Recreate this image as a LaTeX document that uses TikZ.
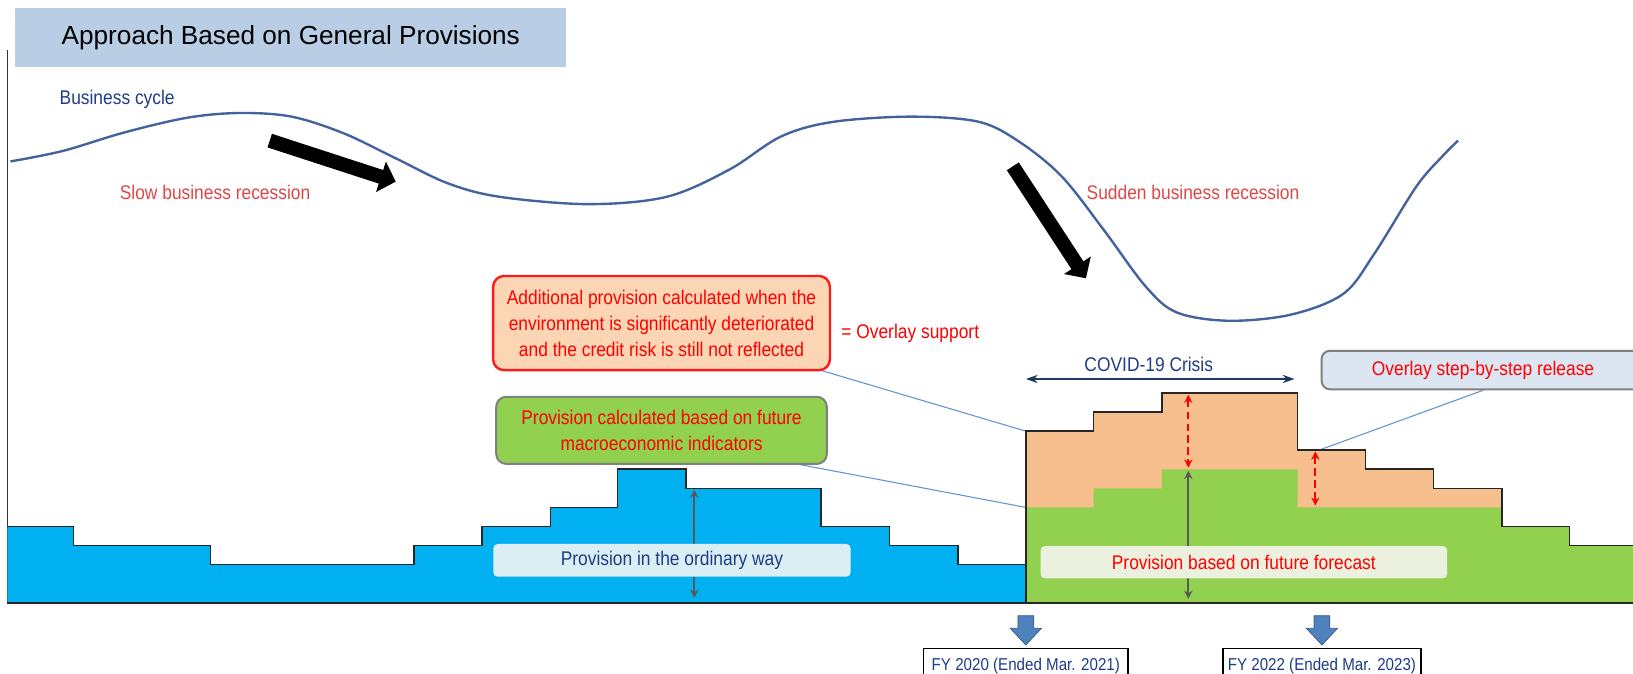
\documentclass[tikz,border=0pt]{standalone}
\usepackage{fontspec}
\setmainfont{Liberation Sans}
\newfontfamily\cnd{Liberation Sans}[FakeStretch=0.88]
\usetikzlibrary{arrows.meta,backgrounds,calc}
\definecolor{titlebg}{RGB}{185,205,229}
\definecolor{provblue}{RGB}{0,176,240}
\definecolor{provgreen}{RGB}{146,208,80}
\definecolor{provorange}{RGB}{248,191,142}
\definecolor{peach}{RGB}{252,213,181}
\definecolor{navy}{RGB}{31,60,136}
\definecolor{darknavy}{RGB}{31,56,100}
\definecolor{softred}{RGB}{224,70,70}
\definecolor{wave}{RGB}{68,98,156}
\definecolor{linkblue}{RGB}{100,150,210}
\definecolor{palecyan}{RGB}{218,238,243}
\definecolor{palegreen}{RGB}{235,241,222}
\definecolor{paleblue}{RGB}{220,230,242}
\definecolor{steel}{RGB}{79,129,189}
\definecolor{steeldark}{RGB}{56,93,138}
\begin{document}
\begin{tikzpicture}[x=0.02cm,y=-0.02cm,
  every node/.style={font=\cnd\fontsize{10.8}{14.2}\selectfont},
  tag/.style={anchor=base,inner sep=0pt},
  labelbox/.style={rounded corners=2.3pt,inner sep=0pt,align=center},
  callout/.style={rounded corners=6pt,line width=1.3pt,inner sep=0pt,align=center,text=red},
  outline/.style={draw=black!85,line width=0.9pt},
  push/.style={line width=7.8pt,-{Triangle[length=8.5pt,width=17pt]}},
  gap/.style={draw=red,dashed,dash pattern=on 4pt off 2.5pt,line width=1.1pt,
              {Stealth[length=4.5pt,width=4.5pt]}-{Stealth[length=4.5pt,width=4.5pt]}},
  height/.style={draw=black!65,line width=1.1pt,
              {Stealth[length=4.5pt,width=4.5pt]}-{Stealth[length=4.5pt,width=4.5pt]}},
  span/.style={draw=darknavy,line width=0.85pt,
              {Stealth[length=6.5pt,width=4.5pt]}-{Stealth[length=6.5pt,width=4.5pt]}},
  link/.style={draw=linkblue,line width=0.6pt},
  fybox/.style={draw,line width=0.8pt,fill=white,text=navy,inner sep=0pt,
              font=\cnd\fontsize{9.4}{11}\selectfont,minimum height=0.7cm},
  blockarrow/.style={fill=steel,draw=steeldark,line width=0.4pt}]
\useasboundingbox (0,0) rectangle (1568,647);

\node[fill=titlebg,minimum width=10.58cm,minimum height=1.12cm,inner sep=0pt,
      font=\fontsize{14.3}{17}\selectfont] (title) at (279.2,36) {Approach Based on General Provisions};
\draw[black!80,line width=0.6pt] (7,48) -- (7,578.7);

\node[tag,text=navy] (cycle) at (112.5,100.8) {Business cycle};
\node[tag,text=softred] (slow) at (206.5,192) {Slow business recession};
\node[tag,text=softred] (sudden) at (1145.5,192) {Sudden business recession};

\draw[wave,line width=1.3pt] plot[smooth,tension=0.55] coordinates {
  (10,155) (60,145) (120,127) (180,113) (230,108.5) (280,112) (330,128) (380,152)
  (430,176) (480,189) (565,196) (640,189) (700,163) (750,131) (800,117) (875,112)
  (940,117) (980,137) (1020,170) (1060,221) (1100,275) (1130,300) (1180,308)
  (1240,302) (1290,282) (1320,243) (1360,179) (1385,150) (1400,135)};

\coordinate (slowA) at (259,135);
\coordinate (slowB) at (380,174.4);
\coordinate (suddenA) at (972.5,159.7);
\coordinate (suddenB) at (1042.7,267.2);
\draw[push] (slowA) -- (slowB);
\draw[push] (suddenA) -- (suddenB);

\fill[provblue] (7,578.7) -- (7,505.5) -- (70.7,505.5) -- (70.7,523.8) -- (202,523.8)
  -- (202,542.1) -- (397.5,542.1) -- (397.5,523.8) -- (463,523.8) -- (463,505.5)
  -- (528.7,505.5) -- (528.7,487.2) -- (593,487.2) -- (593,450.6) -- (658.6,450.6)
  -- (658.6,468.9) -- (788,468.9) -- (788,505.5) -- (854,505.5) -- (854,523.8)
  -- (919.6,523.8) -- (919.6,542.1) -- (985,542.1) -- (985,578.7) -- cycle;
\fill[provorange] (985,578.7) -- (985,414) -- (1050,414) -- (1050,395.7) -- (1115.5,395.7)
  -- (1115.5,377.4) -- (1246,377.4) -- (1246,432.3) -- (1311,432.3) -- (1311,450.6)
  -- (1376.5,450.6) -- (1376.5,468.9) -- (1442,468.9) -- (1442,578.7) -- cycle;
\fill[provgreen] (985,578.7) -- (985,487.2) -- (1050,487.2) -- (1050,468.9) -- (1115.5,468.9)
  -- (1115.5,450.6) -- (1246,450.6) -- (1246,487.2) -- (1442,487.2) -- (1442,505.5)
  -- (1507,505.5) -- (1507,523.8) -- (1568,523.8) -- (1568,578.7) -- cycle;
\draw[outline] (7,505.5) -- (70.7,505.5) -- (70.7,523.8) -- (202,523.8)
  -- (202,542.1) -- (397.5,542.1) -- (397.5,523.8) -- (463,523.8) -- (463,505.5)
  -- (528.7,505.5) -- (528.7,487.2) -- (593,487.2) -- (593,450.6) -- (658.6,450.6)
  -- (658.6,468.9) -- (788,468.9) -- (788,505.5) -- (854,505.5) -- (854,523.8)
  -- (919.6,523.8) -- (919.6,542.1) -- (985,542.1) -- (985,414) -- (1050,414)
  -- (1050,395.7) -- (1115.5,395.7) -- (1115.5,377.4) -- (1246,377.4) -- (1246,432.3)
  -- (1311,432.3) -- (1311,450.6) -- (1376.5,450.6) -- (1376.5,468.9) -- (1442,468.9)
  -- (1442,505.5) -- (1507,505.5) -- (1507,523.8) -- (1568,523.8);
\draw[outline] (985,542.1) -- (985,578.7);
\draw[outline] (7,578.7) -- (1568,578.7);

\coordinate (orgcorner) at (985,414);
\coordinate (grncorner) at (985,487.2);
\coordinate (ordtop) at (666.7,470);
\coordinate (ordbot) at (666.7,574);
\coordinate (fortop) at (1141,452);
\coordinate (forbot) at (1141,575);
\coordinate (gaptopA) at (1141,379);
\coordinate (gapbotA) at (1141,449);
\coordinate (gaptopB) at (1263,433.5);
\coordinate (gapbotB) at (1263,485.5);
\draw[height] (ordtop) -- (ordbot);
\draw[height] (fortop) -- (forbot);
\draw[gap] (gaptopA) -- (gapbotA);
\draw[gap] (gaptopB) -- (gapbotB);

\node[labelbox,fill=palecyan,text=navy,minimum width=6.86cm,minimum height=0.63cm]
  (ordinary) at (645.2,538) {Provision in the ordinary way};
\node[labelbox,fill=palegreen,text=red,minimum width=7.81cm,minimum height=0.62cm]
  (forecast) at (1194.3,539.8) {Provision based on future forecast};

\node[callout,draw=red!90!white,fill=peach,minimum width=6.47cm,minimum height=1.81cm]
  (overlay) at (635.2,310.2) {Additional provision calculated when the\\environment is significantly deteriorated\\and the credit risk is still not reflected};
\node[tag,text=red] (support) at (874,324.8) {=\ Overlay support};
\node[callout,draw=gray,line width=1.1pt,fill=provgreen,minimum width=6.35cm,minimum height=1.29cm,rounded corners=5.5pt]
  (macro) at (635.2,413.2) {Provision calculated based on future\\macroeconomic indicators};
\node[callout,draw=gray,line width=1.1pt,fill=paleblue,minimum width=6.2cm,minimum height=0.74cm,rounded corners=4.5pt]
  (release) at (1424,355.3) {Overlay step-by-step release};

\coordinate (crisisL) at (985,363.9);
\coordinate (crisisR) at (1243,363.9);
\draw[span] (crisisL) -- (crisisR);
\node[tag,text=navy] (crisis) at (1103,356.9) {COVID-19 Crisis};

\begin{scope}[on background layer]
\draw[link] (overlay.center) -- (orgcorner);
\draw[link] ($(macro.south)+(124,-2)$) -- (grncorner);
\draw[link] (release.south) -- (gaptopB);
\end{scope}

\coordinate (fyAtop) at (985,591.2);
\coordinate (fyBtop) at (1269.3,591.2);
\draw[blockarrow] (fyAtop) ++(-7.6,0) -- ++(15.2,0) -- ++(0,12.1) -- ++(7.4,0) -- ++(-15,16)
  -- ++(-15,-16) -- ++(7.4,0) -- cycle;
\draw[blockarrow] (fyBtop) ++(-7.6,0) -- ++(15.2,0) -- ++(0,12.1) -- ++(7.4,0) -- ++(-15,16)
  -- ++(-15,-16) -- ++(7.4,0) -- cycle;
\node[fybox,minimum width=3.93cm] (fyA) at (985,640) {FY 2020 (Ended Mar. 2021)};
\node[fybox,minimum width=3.8cm] (fyB) at (1269.3,640) {FY 2022 (Ended Mar. 2023)};
\end{tikzpicture}
\end{document}
